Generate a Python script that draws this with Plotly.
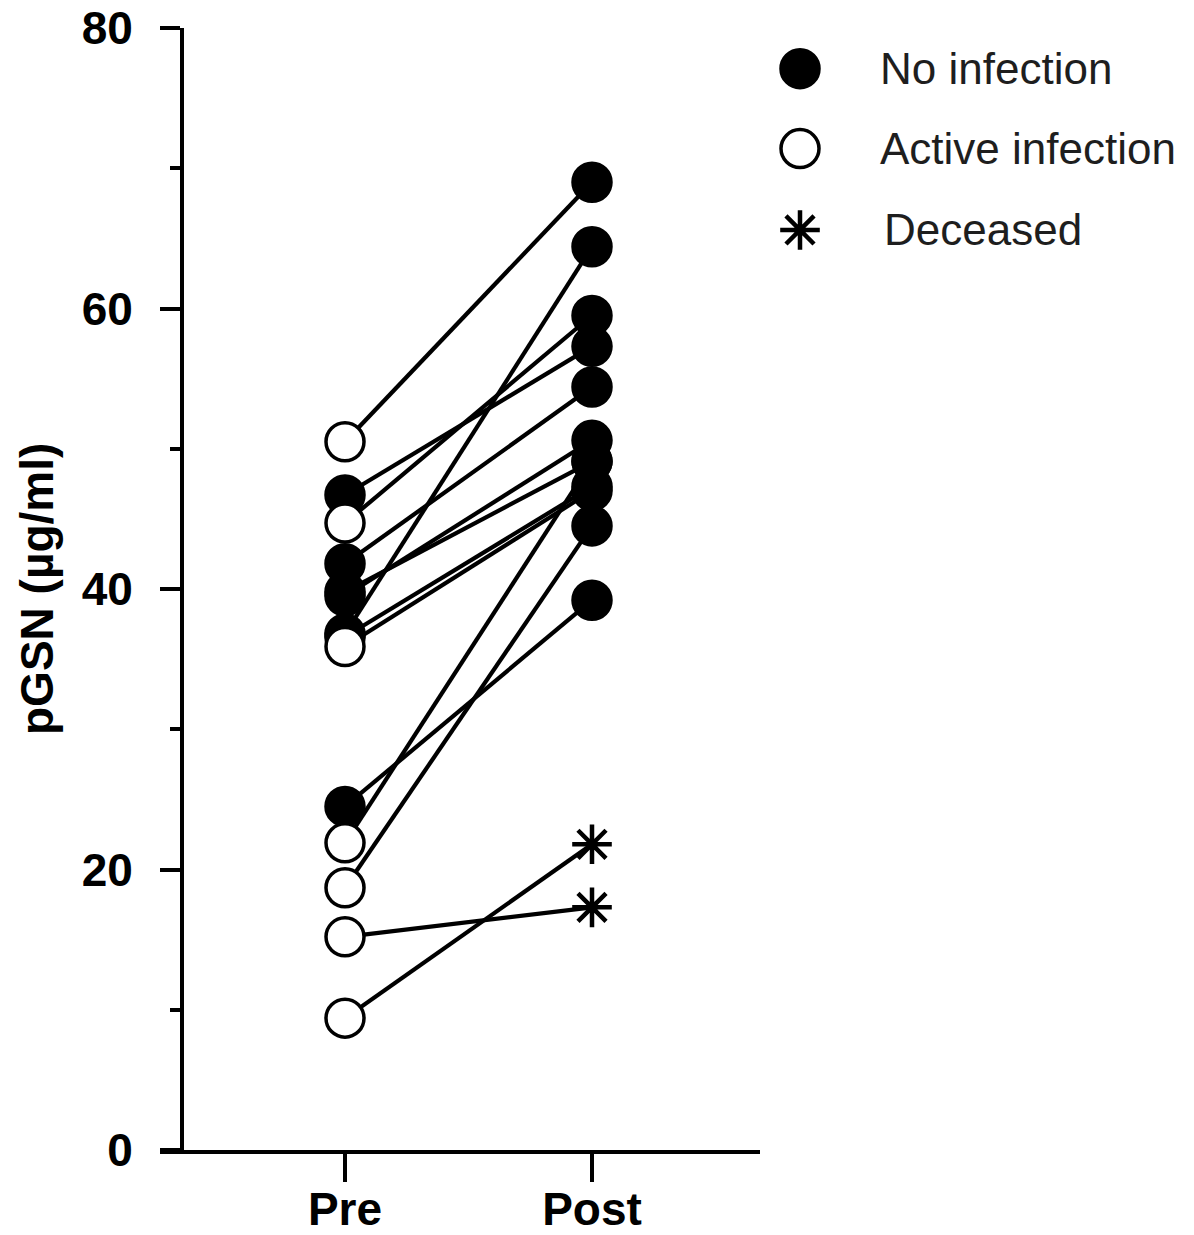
import plotly.graph_objects as go

# ---- data ----
time_points = ["Pre", "Post"]
pre_values = [50.5, 46.7, 44.7, 41.8, 39.8, 39.5, 36.8, 36.6, 35.9, 24.5, 21.9, 18.7, 15.2, 9.4]
post_values = [69.0, 57.3, 59.5, 54.4, 49.1, 50.6, 64.4, 47.3, 47.0, 39.2, 49.1, 44.5, 17.3, 21.8]
pre_status = ["Active", "None", "Active", "None", "None", "None", "None", "None", "Active",
              "None", "Active", "Active", "Active", "Active"]
post_status = ["None"] * 12 + ["Deceased", "Deceased"]

legend_labels = ["No infection", "Active infection", "Deceased"]
legend_levels = [77.1, 71.4, 65.6]
y_ticks = [0, 20, 40, 60, 80]

FONT = "Liberation Sans, Arial, Helvetica, sans-serif"
OFF = 8  # page body margin
W, H = 1178, 1219
L = 160 - OFF
T = 28 - OFF
plot_bottom = 1150 - OFF
B = H - plot_bottom
R = 0
plot_w = W - L - R
main_frac = 600 / plot_w

fig = go.Figure()

# connecting lines
for pv, qv in zip(pre_values, post_values):
    fig.add_trace(go.Scatter(
        x=time_points, y=[pv, qv], mode="lines",
        line=dict(color="black", width=4.2), showlegend=False, hoverinfo="skip"))

def pts(status_list, values, key):
    return [v for s, v in zip(status_list, values) if s == key]

circ = dict(size=38, line=dict(color="black", width=3.5))
star = dict(symbol="asterisk-open", size=33, color="black", line=dict(color="black", width=4.5))
# Pre markers
fig.add_trace(go.Scatter(
    x=["Pre"] * len(pts(pre_status, pre_values, "None")), y=pts(pre_status, pre_values, "None"),
    mode="markers", marker=dict(symbol="circle", color="black", **circ), showlegend=False))
fig.add_trace(go.Scatter(
    x=["Pre"] * len(pts(pre_status, pre_values, "Active")), y=pts(pre_status, pre_values, "Active"),
    mode="markers", marker=dict(symbol="circle", color="white", **circ), showlegend=False))
# Post markers
fig.add_trace(go.Scatter(
    x=["Post"] * len(pts(post_status, post_values, "None")), y=pts(post_status, post_values, "None"),
    mode="markers", marker=dict(symbol="circle", color="black", **circ), showlegend=False))
fig.add_trace(go.Scatter(
    x=["Post"] * len(pts(post_status, post_values, "Deceased")), y=pts(post_status, post_values, "Deceased"),
    mode="markers", marker=star, showlegend=False))

# manual legend markers on an overlay axis
leg_x = (800 - 760) / (plot_w - 600)
fig.add_trace(go.Scatter(x=[leg_x], y=[legend_levels[0]], xaxis="x2", yaxis="y2", mode="markers",
                         marker=dict(symbol="circle", color="black", **circ), showlegend=False))
fig.add_trace(go.Scatter(x=[leg_x], y=[legend_levels[1]], xaxis="x2", yaxis="y2", mode="markers",
                         marker=dict(symbol="circle", color="white", **circ), showlegend=False))
fig.add_trace(go.Scatter(x=[leg_x], y=[legend_levels[2]], xaxis="x2", yaxis="y2", mode="markers",
                         marker=star, showlegend=False))
for lab, lv in zip(legend_labels, legend_levels):
    tx = (878 - 760) / (plot_w - 600) if lab != "Deceased" else (882 - 760) / (plot_w - 600)
    fig.add_annotation(x=tx, y=lv, xref="x2", yref="y2",
                       text=lab, showarrow=False, xanchor="left", yanchor="middle",
                       font=dict(family=FONT, size=44, color="#1e1e1e"))

# y-axis title
fig.add_annotation(x=(37 - 160) / plot_w, y=0.5, xref="paper", yref="paper",
                   text="pGSN (µg/ml)", textangle=-90, showarrow=False,
                   xanchor="center", yanchor="middle",
                   font=dict(family=FONT, size=46, color="black", weight="bold"))

pre_px = 345 - 160
px_per = 247
fig.update_layout(
    width=W, height=H,
    margin=dict(l=L, r=R, t=T, b=B, autoexpand=False),
    paper_bgcolor="white", plot_bgcolor="white",
    showlegend=False,
    xaxis=dict(
        domain=[0, main_frac], type="category", categoryorder="array", categoryarray=time_points,
        range=[-pre_px / px_per, (600 - pre_px) / px_per],
        showline=True, linecolor="black", linewidth=4,
        ticks="outside", ticklen=28, tickwidth=4, tickcolor="black",
        tickfont=dict(family=FONT, size=46, color="black", weight="bold"),
        ticklabelstandoff=-12, ticklabeloverflow="allow",
        showgrid=False, zeroline=False, automargin=False, anchor="y"),
    yaxis=dict(
        range=[0, 80], anchor="free", position=(182 - 160) / plot_w,
        showline=True, linecolor="black", linewidth=4,
        tickmode="array", tickvals=y_ticks,
        ticks="outside", ticklen=20, tickwidth=4, tickcolor="black",
        minor=dict(ticks="outside", dtick=10, ticklen=10, tickwidth=4, tickcolor="black"),
        tickfont=dict(family=FONT, size=46, color="black", weight="bold"),
        ticklabelstandoff=18, ticklabeloverflow="allow",
        showgrid=False, zeroline=False, automargin=False),
    xaxis2=dict(domain=[main_frac, 1], range=[0, 1], visible=False, anchor="y2"),
    yaxis2=dict(range=[0, 80], visible=False, anchor="x2", domain=[0, 1]),
)

fig.write_html("out.html")
